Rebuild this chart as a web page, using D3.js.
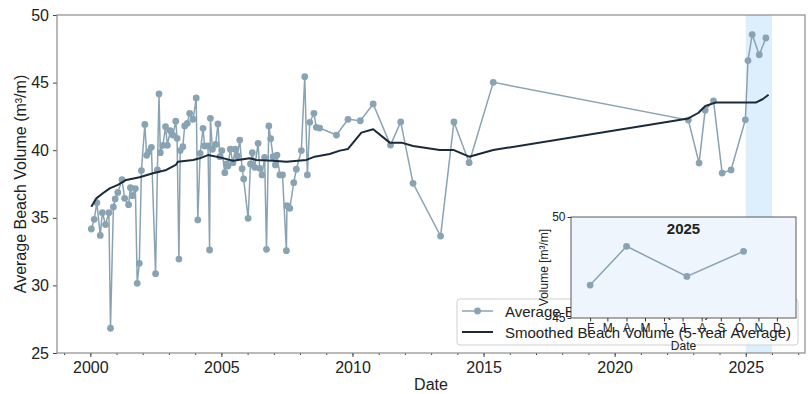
<!DOCTYPE html>
<html>
<head>
<meta charset="utf-8">
<title>Average Beach Volume</title>
<script src="https://d3js.org/d3.v7.min.js"></script>
<style>
  body { margin: 0; background: #fff; }
  svg text { font-family: "Liberation Sans", Arial, sans-serif; fill: #222; }
</style>
</head>
<body>
<div id="chart"></div>
<script>
// survey dates as decimal years, beach volume in m3/m
var rawYears = [2000.04, 2000.15, 2000.25, 2000.38, 2000.46, 2000.58, 2000.71, 2000.77, 2000.88, 2000.95,
  2001.05, 2001.21, 2001.31, 2001.46, 2001.53, 2001.61, 2001.72, 2001.79, 2001.87, 2001.95,
  2002.08, 2002.15, 2002.23, 2002.33, 2002.49, 2002.56, 2002.62, 2002.67, 2002.77, 2002.87, 2002.94,
  2003.05, 2003.15, 2003.26, 2003.31, 2003.38, 2003.43, 2003.53, 2003.60, 2003.70, 2003.79, 2003.92,
  2004.04, 2004.10, 2004.19, 2004.30, 2004.36, 2004.49, 2004.55, 2004.58, 2004.66, 2004.78, 2004.87, 2004.94,
  2005.02, 2005.13, 2005.19, 2005.25, 2005.34, 2005.44, 2005.53, 2005.61, 2005.70, 2005.79, 2005.85,
  2006.02, 2006.11, 2006.18, 2006.27, 2006.40, 2006.46, 2006.55, 2006.65, 2006.72, 2006.81, 2006.88, 2006.97,
  2007.06, 2007.12, 2007.23, 2007.33, 2007.48, 2007.50, 2007.61, 2007.76, 2007.86,
  2008.05, 2008.18, 2008.28, 2008.37, 2008.53, 2008.62, 2008.75, 2009.39, 2009.83,
  2010.30, 2010.79, 2011.45, 2011.84, 2012.31, 2013.36, 2013.87, 2014.45, 2015.37,
  2022.81, 2023.22, 2023.45, 2023.77, 2024.10, 2024.44, 2024.985];
var rawValues = [34.17, 34.89, 36.12, 33.70, 35.38, 34.50, 35.38, 26.83, 35.80, 36.39,
  36.88, 37.82, 36.44, 35.97, 37.23, 36.64, 37.16, 30.15, 31.63, 38.49,
  41.91, 39.62, 39.89, 40.21, 30.87, 38.54, 44.16, 39.82, 40.36, 41.74, 40.36,
  41.44, 41.12, 42.14, 40.88, 31.95, 39.97, 40.26, 41.79, 41.99, 42.73, 42.29,
  43.86, 34.84, 39.77, 41.62, 40.31, 40.31, 32.62, 42.36, 40.07, 40.43, 41.94, 39.52,
  39.97, 38.34, 38.98, 38.83, 40.07, 39.08, 40.07, 39.57, 40.75, 38.63, 37.87,
  34.96, 38.98, 39.82, 38.73, 40.51, 38.66, 38.17, 39.47, 32.67, 41.79, 40.85, 39.52,
  38.91, 39.64, 38.17, 38.17, 32.57, 35.90, 35.70, 37.60, 38.59,
  39.97, 45.44, 38.17, 42.06, 42.73, 41.69, 41.64, 41.12, 42.28,
  42.18, 43.42, 40.38, 42.09, 37.55, 33.65, 42.09, 39.08, 45.02,
  42.23, 39.05, 42.95, 43.65, 38.31, 38.54, 42.25];

// 2025 surveys (1 Feb, 1 Apr, 8 Jul, 8 Oct)
var years2025 = [2025.085, 2025.247, 2025.515, 2025.767];
var values2025 = [46.63, 48.55, 47.06, 48.30];

// 5-year rolling mean
var smoothYears = [2000.04, 2000.23, 2000.48, 2000.74, 2001.05, 2001.37, 2001.88, 2002.39, 2002.90, 2003.26,
  2003.34, 2003.92, 2004.17, 2004.49, 2004.94, 2005.44, 2006.08, 2006.33, 2006.97, 2007.48,
  2008.24, 2008.56, 2009.13, 2009.52, 2009.83, 2010.34, 2010.79, 2011.42, 2011.87, 2012.31,
  2013.33, 2013.87, 2014.45, 2015.37, 2022.81, 2023.20, 2023.34, 2023.46, 2023.84, 2025.38, 2025.64, 2025.87];
var smoothValues = [35.82, 36.44, 36.81, 37.18, 37.43, 37.80, 38.00, 38.29, 38.54, 38.91,
  39.15, 39.28, 39.40, 39.64, 39.47, 39.22, 39.40, 39.28, 39.22, 39.15,
  39.28, 39.52, 39.72, 39.97, 40.09, 41.30, 41.55, 40.56, 40.56, 40.31,
  40.01, 40.01, 39.52, 40.01, 42.35, 42.77, 43.05, 43.27, 43.52, 43.52, 43.77, 44.10];

var xTicks = [2000, 2005, 2010, 2015, 2020, 2025];
var yTicks = [25, 30, 35, 40, 45, 50];
var monthLabels = ["F", "M", "A", "M", "J", "J", "A", "S", "O", "N", "D"];
var legendLabels = ["Average Beach Volume (m\u00b3/m)", "Smoothed Beach Volume (5-Year Average)"];

var rawColor = "#8aa3b3", smoothColor = "#1b2a38";

var width = 809, height = 394;
var margin = {top: 15, right: 4, bottom: 41, left: 57};

var svg = d3.select("#chart").append("svg")
  .attr("width", width).attr("height", height);

var x = d3.scaleLinear().domain([1998.73, 2027.26]).range([margin.left, width - margin.right]);
var y = d3.scaleLinear().domain([25, 50]).range([height - margin.bottom, margin.top]);

var raw = rawYears.map(function(d, i) { return {x: d, y: rawValues[i]}; })
  .concat(years2025.map(function(d, i) { return {x: d, y: values2025[i]}; }));
var smooth = smoothYears.map(function(d, i) { return {x: d, y: smoothValues[i]}; });

// 2025 highlight
svg.append("rect")
  .attr("x", x(2025)).attr("y", y(50))
  .attr("width", x(2026) - x(2025)).attr("height", y(25) - y(50))
  .attr("fill", "#ddeefc");

var line = d3.line().x(function(d) { return x(d.x); }).y(function(d) { return y(d.y); });

svg.append("path").datum(raw)
  .attr("fill", "none").attr("stroke", rawColor).attr("stroke-width", 1.5)
  .attr("d", line);
svg.selectAll(".pt").data(raw).enter().append("circle")
  .attr("cx", function(d) { return x(d.x); })
  .attr("cy", function(d) { return y(d.y); })
  .attr("r", 3.4).attr("fill", rawColor);

svg.append("path").datum(smooth)
  .attr("fill", "none").attr("stroke", smoothColor).attr("stroke-width", 2)
  .attr("stroke-linejoin", "round")
  .attr("d", line);

// axes
var gx = svg.append("g").attr("transform", "translate(0," + y(25) + ")")
  .call(d3.axisBottom(x).tickValues(xTicks).tickFormat(d3.format("d")).tickSize(4).tickPadding(5));
var gxm = svg.append("g").attr("transform", "translate(0," + y(25) + ")")
  .call(d3.axisBottom(x).tickValues(d3.range(1999, 2028)).tickFormat("").tickSize(2));
var gy = svg.append("g").attr("transform", "translate(" + x.range()[0] + ",0)")
  .call(d3.axisLeft(y).tickValues(yTicks).tickSize(4).tickPadding(4));

[gx, gxm, gy].forEach(function(g) {
  g.select(".domain").remove();
  g.selectAll(".tick line").attr("stroke", "#444");
});
gx.selectAll("text").attr("font-size", 16).style("fill", "#222");
gy.selectAll("text").attr("font-size", 16).style("fill", "#222");

svg.append("rect")
  .attr("x", x.range()[0]).attr("y", y(50))
  .attr("width", x.range()[1] - x.range()[0]).attr("height", y(25) - y(50))
  .attr("fill", "none").attr("stroke", "#8c8c8c").attr("stroke-width", 1.2);

svg.append("text").attr("x", (x.range()[0] + x.range()[1]) / 2).attr("y", 390)
  .attr("text-anchor", "middle").attr("font-size", 16).text("Date");
svg.append("text")
  .attr("transform", "translate(20," + (y(25) + y(50)) / 2 + ") rotate(-90)")
  .attr("text-anchor", "middle").attr("dominant-baseline", "central")
  .attr("font-size", 16).text("Average Beach Volume (m\u00b3/m)");

// legend
var lg = svg.append("g");
lg.append("rect").attr("x", 457).attr("y", 299).attr("width", 341).attr("height", 46)
  .attr("rx", 3).attr("fill", "#fff").attr("fill-opacity", 0.85)
  .attr("stroke", "#d0d0d0");
legendLabels.forEach(function(t, i) {
  var ly = 311 + i * 21;
  lg.append("line").attr("x1", 462).attr("x2", 493).attr("y1", ly).attr("y2", ly)
    .attr("stroke", i ? smoothColor : rawColor).attr("stroke-width", i ? 2 : 1.5);
  if (!i) lg.append("circle").attr("cx", 477.5).attr("cy", ly).attr("r", 3.4).attr("fill", rawColor);
  lg.append("text").attr("x", 505).attr("y", ly).attr("dominant-baseline", "central")
    .attr("font-size", 15).text(t);
});

// inset for 2025
var ix = d3.scaleLinear().domain([2025, 2026]).range([571, 796]);
var iy = d3.scaleLinear().domain([45, 50]).range([318, 217]);
var ins = svg.append("g");
ins.append("rect").attr("x", 571).attr("y", 217).attr("width", 225).attr("height", 101)
  .attr("fill", "#eef5fd").attr("stroke", "#333").attr("stroke-width", 0.8);

var monthTicks = d3.timeMonth.range(new Date(2025, 1, 1), new Date(2026, 0, 1)).map(function(m) {
  return 2025 + d3.timeDay.count(new Date(2025, 0, 1), m) / 365;
});
var ig = ins.append("g").attr("transform", "translate(0,318)")
  .call(d3.axisBottom(ix).tickValues(monthTicks)
    .tickFormat(function(d, i) { return monthLabels[i]; }).tickSize(3.5).tickPadding(2));
var igy = ins.append("g").attr("transform", "translate(571,0)")
  .call(d3.axisLeft(iy).tickValues([45, 50]).tickFormat(d3.format("d")).tickSize(3.5).tickPadding(2));
[ig, igy].forEach(function(g) {
  g.select(".domain").remove();
  g.selectAll(".tick line").attr("stroke", "#333");
  g.selectAll("text").attr("font-size", 12).style("fill", "#222");
});

var inset = years2025.map(function(d, i) { return {x: d, y: values2025[i]}; });
ins.append("path").datum(inset)
  .attr("fill", "none").attr("stroke", rawColor).attr("stroke-width", 1.5)
  .attr("d", d3.line().x(function(d) { return ix(d.x); }).y(function(d) { return iy(d.y); }));
ins.selectAll(".ipt").data(inset).enter().append("circle")
  .attr("cx", function(d) { return ix(d.x); })
  .attr("cy", function(d) { return iy(d.y); })
  .attr("r", 3.4).attr("fill", rawColor);

ins.append("text").attr("x", 683.5).attr("y", 228).attr("text-anchor", "middle")
  .attr("dominant-baseline", "central").attr("font-size", 15).attr("font-weight", "bold").text("2025");
ins.append("text").attr("x", 683.5).attr("y", 346).attr("text-anchor", "middle")
  .attr("dominant-baseline", "central").attr("font-size", 12).text("Date");
ins.append("text").attr("transform", "translate(544,267.5) rotate(-90)")
  .attr("text-anchor", "middle").attr("dominant-baseline", "central")
  .attr("font-size", 12).text("Volume [m\u00b3/m]");
</script>
</body>
</html>
